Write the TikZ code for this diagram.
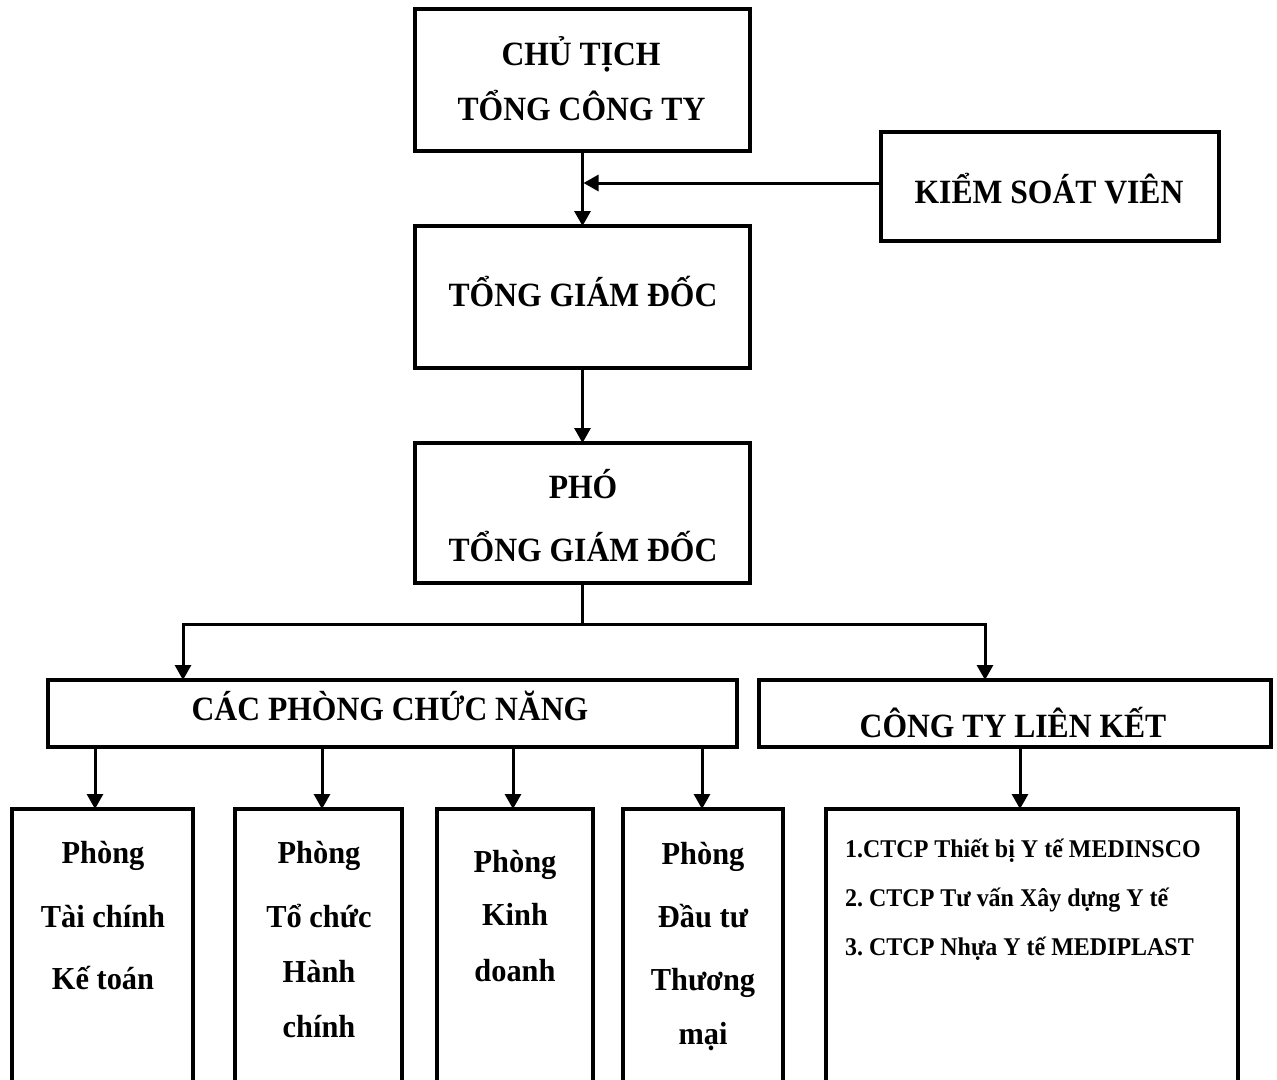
\documentclass[tikz,border=0pt]{standalone}
\usepackage{fontspec}
\setmainfont{Liberation Serif}
\newfontfamily\bigf[FakeStretch=0.93]{Liberation Serif}
\newfontfamily\midf[FakeStretch=0.95]{Liberation Serif}
\newfontfamily\smlf[FakeStretch=0.94]{Liberation Serif}
\usetikzlibrary{arrows.meta}
\frenchspacing
\tikzset{
  box/.style={draw, line width=4pt, inner sep=0pt, outer sep=0pt},
  thinbox/.style={draw, line width=3.3pt, inner sep=0pt, outer sep=0pt},
  conn/.style={line width=3pt, line join=miter},
  arr/.style={conn, -{Triangle[length=15pt,width=16pt]}},
  bigtxt/.style={anchor=base, inner sep=0pt, font=\bigf\bfseries\fontsize{34pt}{40pt}\selectfont},
  midtxt/.style={anchor=base, inner sep=0pt, font=\midf\bfseries\fontsize{32pt}{38pt}\selectfont},
  smltxt/.style={anchor=base west, inner sep=0pt, font=\smlf\bfseries\fontsize{25.5pt}{30pt}\selectfont},
}
\begin{document}
\begin{tikzpicture}[x=1pt,y=-1pt]
\useasboundingbox (0,0) rectangle (1277,1079);
\clip (0,0) rectangle (1277,1079);
\fill[white] (0,0) rectangle (1277,1079);

% boxes
\node[box, minimum width=335pt, minimum height=142pt] (ct) at (582.5,80) {};
\node[thinbox, minimum width=338pt, minimum height=109pt] (ksv) at (1050,186.5) {};
\node[box, minimum width=335pt, minimum height=142pt] (tgd) at (582.5,297) {};
\node[box, minimum width=335pt, minimum height=140pt] (pho) at (582.5,513) {};
\node[box, minimum width=689pt, minimum height=67pt] (cpcn) at (392.5,713.5) {};
\node[box, minimum width=512pt, minimum height=67pt] (ctlk) at (1015,713.5) {};
\node[thinbox, minimum width=181pt, minimum height=311pt] (p1) at (102.5,964.5) {};
\node[thinbox, minimum width=167pt, minimum height=311pt] (p2) at (318.5,964.5) {};
\node[thinbox, minimum width=156pt, minimum height=311pt] (p3) at (515,964.5) {};
\node[thinbox, minimum width=160pt, minimum height=311pt] (p4) at (703,964.5) {};
\node[thinbox, minimum width=412pt, minimum height=311pt] (p5) at (1032,964.5) {};

% texts
\node[bigtxt] (tct1) at (581,65) {CHỦ TỊCH};
\node[bigtxt] (tct2) at (581.5,120) {TỔNG CÔNG TY};
\node[bigtxt] (tksv) at (1049,203) {KIỂM SOÁT VIÊN};
\node[bigtxt] (ttgd) at (583,306) {TỔNG GIÁM ĐỐC};
\node[bigtxt] (tpho1) at (583,498) {PHÓ};
\node[bigtxt] (tpho2) at (583,561) {TỔNG GIÁM ĐỐC};
\node[bigtxt] (tcpcn) at (390,720) {CÁC PHÒNG CHỨC NĂNG};
\node[bigtxt] (tctlk) at (1013,737) {CÔNG TY LIÊN KẾT};

\node[midtxt] (t1a) at (103,863) {Phòng};
\node[midtxt] (t1b) at (103,927) {Tài chính};
\node[midtxt] (t1c) at (103,989) {Kế toán};
\node[midtxt] (t2a) at (319,863) {Phòng};
\node[midtxt] (t2b) at (319,927) {Tổ chức};
\node[midtxt] (t2c) at (319,982) {Hành};
\node[midtxt] (t2d) at (319,1037) {chính};
\node[midtxt] (t3a) at (515,872) {Phòng};
\node[midtxt] (t3b) at (515,925) {Kinh};
\node[midtxt] (t3c) at (515,981) {doanh};
\node[midtxt] (t4a) at (703,864) {Phòng};
\node[midtxt] (t4b) at (703,927) {Đầu tư};
\node[midtxt] (t4c) at (703,990) {Thương};
\node[midtxt] (t4d) at (703,1044) {mại};
\node[smltxt] (t5a) at (845,857) {1.CTCP Thiết bị Y tế MEDINSCO};
\node[smltxt] (t5b) at (845,906) {2. CTCP Tư vấn Xây dựng Y tế};
\node[smltxt] (t5c) at (845,955) {3. CTCP Nhựa Y tế MEDIPLAST};

% connectors
\coordinate (j1) at (583.5,183);
\draw[arr] (ct.south) -- (tgd.north);
\draw[arr] (ksv.west |- j1) -- (j1);
\draw[arr] (tgd.south) -- (pho.north);

\coordinate (bj) at (582.5,624);
\coordinate (bl) at (183,624);
\coordinate (brr) at (985,624);
\draw[conn] (pho.south) -- (bj);
\draw[arr] (bj) -- (bl) -- (bl |- cpcn.north);
\draw[arr] (bj) -- (brr) -- (brr |- ctlk.north);

\coordinate (a1) at (95,0);
\coordinate (a2) at (322,0);
\coordinate (a3) at (513,0);
\coordinate (a4) at (702,0);
\coordinate (a5) at (1020,0);
\draw[arr] (cpcn.south -| a1) -- (p1.north -| a1);
\draw[arr] (cpcn.south -| a2) -- (p2.north -| a2);
\draw[arr] (cpcn.south -| a3) -- (p3.north -| a3);
\draw[arr] (cpcn.south -| a4) -- (p4.north -| a4);
\draw[arr] (ctlk.south -| a5) -- (p5.north -| a5);
\end{tikzpicture}
\end{document}
